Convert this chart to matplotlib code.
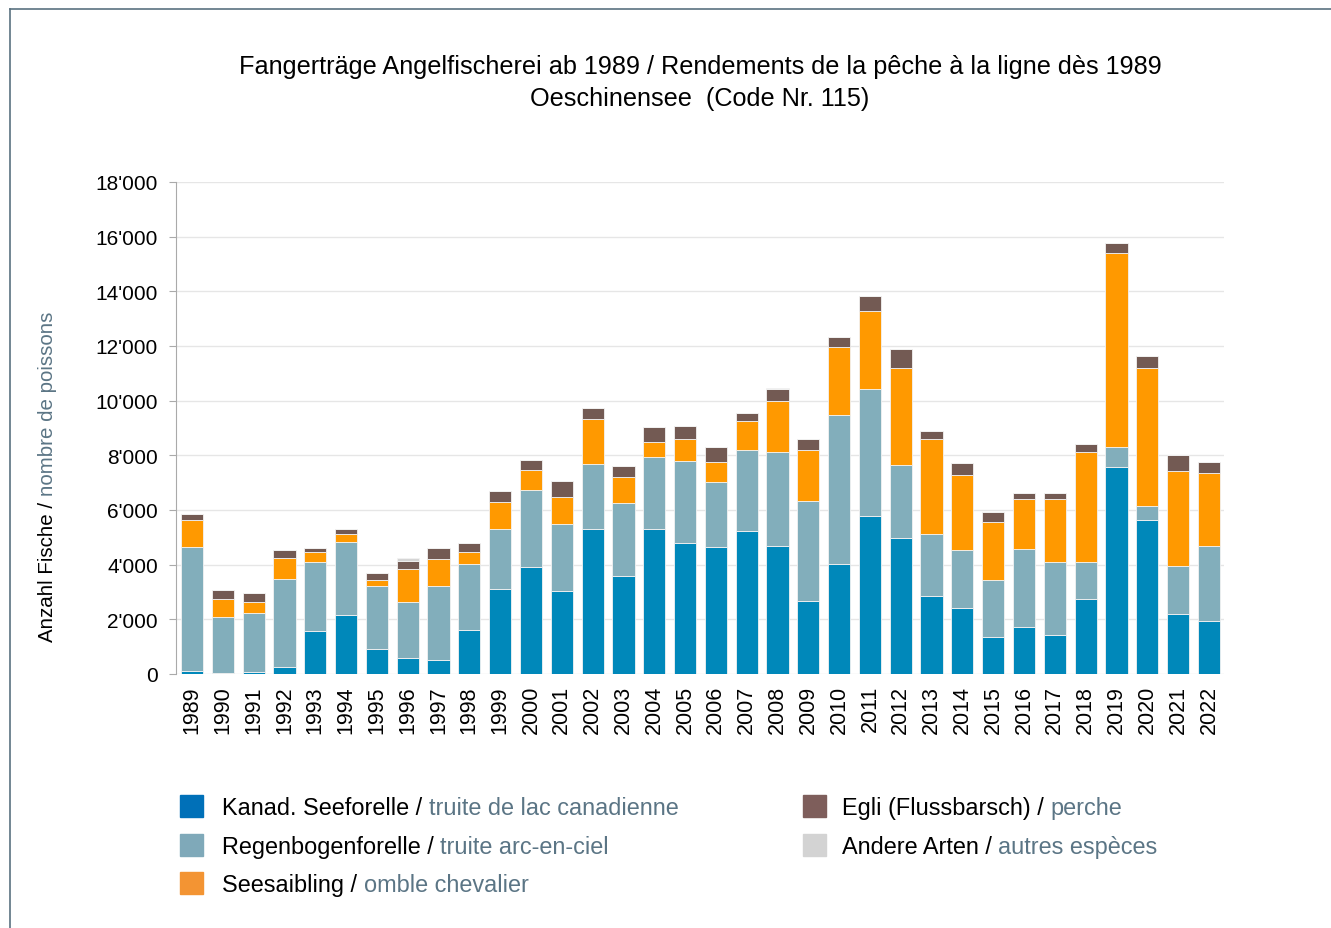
import numpy as np
import matplotlib
matplotlib.use("Agg")
import matplotlib.pyplot as plt
from matplotlib.lines import Line2D
from matplotlib.patches import Rectangle

plt.rcParams['font.family'] = ['Liberation Sans', 'DejaVu Sans']

years = list(range(1989, 2023))

# segment heights (bottom to top)
seeforelle = [115, 30, 60, 250, 1580, 2150, 930, 580, 505, 1600,
              3100, 3910, 3030, 5290, 3590, 5290, 4790, 4650, 5250, 4680,
              2680, 4020, 5790, 4970, 2840, 2410, 1370, 1710, 1410, 2730,
              7590, 5620, 2190, 1950]
regenbogen = [4540, 2060, 2190, 3220, 2520, 2690, 2290, 2060, 2730, 2420,
              2200, 2840, 2440, 2390, 2650, 2640, 3000, 2390, 2950, 3460,
              3640, 5440, 4620, 2690, 2270, 2140, 2080, 2860, 2700, 1350,
              710, 510, 1750, 2750]
seesaibling = [990, 670, 370, 770, 370, 280, 230, 1210, 980, 430,
               990, 700, 1020, 1660, 960, 550, 790, 710, 1070, 1840,
               1890, 2520, 2880, 3550, 3480, 2730, 2110, 1840, 2290, 4060,
               7120, 5060, 3490, 2660]
egli = [195, 300, 355, 295, 150, 195, 255, 290, 380, 330,
        390, 390, 570, 400, 400, 560, 500, 550, 270, 430,
        380, 340, 540, 670, 300, 430, 380, 230, 210, 280,
        340, 450, 600, 410]
andere = [0, 0, 0, 0, 0, 0, 0, 90, 0, 0,
          0, 0, 0, 0, 0, 0, 0, 0, 0, 60,
          0, 0, 0, 0, 0, 0, 0, 0, 0, 0,
          0, 0, 0, 0]

series = [seeforelle, regenbogen, seesaibling, egli, andere]
bar_colors = ['#0088BA', '#82AEBB', '#FF9900', '#735A53', '#D5D5D5']
legend_colors = ['#0070B8', '#7FA9B9', '#F39433', '#7E5E5B', '#D3D3D3']
legend_de = ['Kanad. Seeforelle / ', 'Regenbogenforelle / ', 'Seesaibling / ',
             'Egli (Flussbarsch) / ', 'Andere Arten / ']
legend_fr = ['truite de lac canadienne', 'truite arc-en-ciel', 'omble chevalier',
             'perche', 'autres espèces']

slate = '#5B7585'

fig = plt.figure(figsize=(13.31, 9.29), dpi=100)
ax = fig.add_axes([176 / 1331, 1 - 675 / 929, 1048 / 1331, 492 / 929])

x = np.arange(len(years))
bottom = np.zeros(len(years))
for vals, col in zip(series, bar_colors):
    vals = np.array(vals, dtype=float)
    ax.bar(x, vals, bottom=bottom, width=0.72, color=col,
           edgecolor='#F2F2F2', linewidth=0.6, zorder=3)
    bottom += vals

ax.set_xlim(-0.52, len(years) - 0.51)
ax.set_ylim(0, 18000)
yt = np.arange(0, 18001, 2000)
ax.set_yticks(yt)
ax.set_yticklabels([f"{v:,}".replace(',', "'") for v in yt], fontsize=15)
ax.set_xticks(x)
ax.set_xticklabels([str(y) for y in years], rotation=90, fontsize=15.5)
ax.tick_params(axis='x', length=0, pad=8)
ax.tick_params(axis='y', length=5, color='#AAAAAA', pad=8)
ax.grid(axis='y', color='#E6E6E6', linewidth=1.0, zorder=0)
for s in ['top', 'right', 'bottom']:
    ax.spines[s].set_visible(False)
ax.spines['left'].set_color('#AAAAAA')

# title
fig.text(700 / 1331, 1 - 67 / 929,
         'Fangerträge Angelfischerei ab 1989 / Rendements de la pêche à la ligne dès 1989',
         ha='center', va='center', fontsize=18.2)
fig.text(700 / 1331, 1 - 99 / 929, 'Oeschinensee  (Code Nr. 115)',
         ha='center', va='center', fontsize=18.2)

# y label in two colours
t1 = fig.text(48 / 1331, 1 - 642 / 929, 'Anzahl Fische / ', rotation=90,
              ha='center', va='bottom', fontsize=14.8)
ax.annotate('nombre de poissons', xy=(0, 1), xycoords=t1, rotation=90,
            ha='left', va='bottom', fontsize=14.8, color=slate)

# legend
pos = [(180, 807), (180, 846), (180, 884), (803, 807), (803, 846)]
for (px, py), col, de, fr in zip(pos, legend_colors, legend_de, legend_fr):
    fig.add_artist(Rectangle((px / 1331, 1 - (py + 11) / 929), 23 / 1331, 22 / 929,
                             transform=fig.transFigure, color=col))
    off = 42 if px < 500 else 39
    ta = fig.text((px + off) / 1331, 1 - (py + 2) / 929, de, ha='left', va='center',
                  fontsize=16.9)
    ax.annotate(fr, xy=(1, 0), xycoords=ta, ha='left', va='bottom',
                fontsize=16.9, color=slate)

# frame lines
fig.add_artist(Line2D([10 / 1331, 10 / 1331], [0, 1 - 10 / 929],
                      transform=fig.transFigure, color='#5A7280', linewidth=1.2))
fig.add_artist(Line2D([10 / 1331, 1], [1 - 10 / 929, 1 - 10 / 929],
                      transform=fig.transFigure, color='#5A7280', linewidth=1.2))

fig.savefig('out.png', dpi=100)
